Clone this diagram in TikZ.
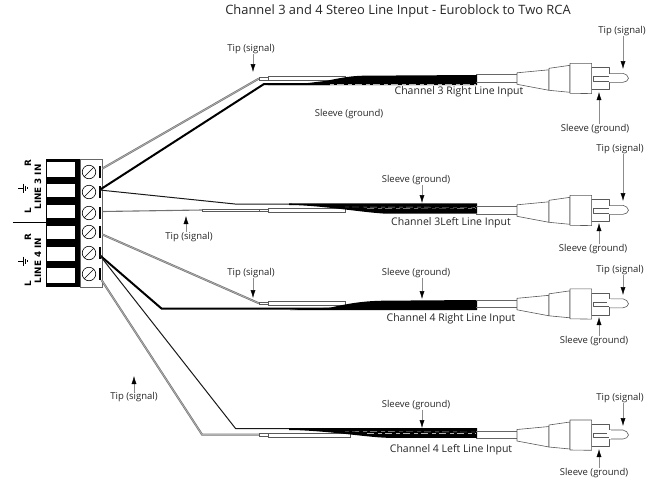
\documentclass[tikz,border=0pt]{standalone}
\usepackage{fontspec}
\setmainfont{Open Sans}
\newfontfamily\blockfont{DejaVu Sans}
\usetikzlibrary{arrows.meta}
\tikzset{
  lbl/.style={inner sep=0pt,font=\fontsize{9.5}{11}\selectfont,text=black!85},
  chl/.style={inner sep=0pt,font=\fontsize{10.5}{12}\selectfont,text=black!85},
  ttl/.style={inner sep=0pt,font=\fontsize{12.9}{14}\selectfont,text=black!85},
  blk/.style={inner sep=0pt,rotate=90,font=\blockfont\bfseries\fontsize{8.8}{10}\selectfont},
  callout/.style={draw=black!45,line width=.5pt,-{Latex[black,length=8pt,width=5pt]}},
  dblwire/.style={draw=black!55,line width=2pt,postaction={draw=white!70!black,line width=.7pt}},
  thinwire/.style={draw=black!90,line width=1pt},
  thickwire/.style={draw=black,line width=2pt},
  greywire/.style={draw=black!55,line width=1.1pt},
  tube/.style={draw=black!65,fill=white,line width=.5pt},
  plugline/.style={draw=black!65,fill=white,line width=.6pt,line join=round},
  whitebox/.style={fill=white,draw=none},
  screw/.style={circle,draw=black,line width=.6pt,minimum size=13.5pt,inner sep=0pt,fill=white},
  sheathdash/.style={draw=white!70!black,line width=.4pt,dash pattern=on 4pt off 3pt on 7pt off 4pt},
  plugpic/.pic={
    \draw[black!60,line width=.6pt] (0,-4) -- (41,-4) (0,3.5) -- (41,3.5);
    \draw[plugline] (41,-5.5) -- (73,-8.5) -- (73,12) -- (41,6) -- cycle;
    \draw[plugline] (73,-10) -- (94,-13) -- (94,14) -- (73,12) -- cycle;
    \draw[plugline] (115.6,-11) -- (133.3,-11) -- (133.3,11) -- (115.6,11) -- cycle;
    \draw[plugline] (133.3,-5) -- (147,-5) .. controls (150,-5) and (152,-2) .. (152.5,0)
      .. controls (152,2) and (150,4) .. (147,4) -- (133.3,4);
    \draw[plugline] (133.3,-5) -- (133.3,-2) -- (117.5,-2) -- (117.5,2.7) -- (133.3,2.7) -- (133.3,4);
    \fill[white] (131,-1.6) rectangle (134.5,2.3);
    \fill[white] (133,-4.6) rectangle (135,3.6);
    \draw[plugline] (94,-15) -- (115.6,-15) -- (115.6,15.3) -- (94,15) -- cycle;
  }
}
\begin{document}
\begin{tikzpicture}[x=1pt,y=-1pt]
\useasboundingbox (0,0) rectangle (660,477);

% terminal block
\fill[black] (46,159) rectangle (80,287);
\foreach \a/\b in {162/177,184/197,205/218,226/239,247/261,268/283}
  \fill[whitebox] (47,\a) rectangle (75,\b);
\draw[black!60,fill=white,line width=.7pt] (80,159) rectangle (102.4,287);
\foreach \y/\n in {172/s1,192/s2,213/s3,232/s4,253/s5,274/s6}{
  \node[screw] (\n) at (89,\y) {};
  \draw[black,line width=.6pt] (\n.north east) -- (\n.south west);
  \draw[black,line width=1.2pt] (100,\y-6) -- (100,\y+6);
}
\coordinate (e1) at (102.4,168.5);
\coordinate (e2) at (99.5,190);
\coordinate (e3) at (102.4,211.5);
\coordinate (e4) at (102.4,234.5);
\coordinate (e5) at (99.5,255);
\coordinate (e6) at (101.5,280);
\coordinate (divL) at (13,222);
\coordinate (divR) at (46,222);
\draw[black,line width=.6pt] (divL) -- (divR);
\node[blk] (l3) at (38,187) {LINE 3 IN};
\node[blk] (l4) at (38,260.5) {LINE 4 IN};
\node[blk] (r3) at (28,163) {R};
\node[blk] (g3l) at (28,210.5) {L};
\node[blk] (r4) at (28,237) {R};
\node[blk] (g4l) at (28,284) {L};
\foreach \y in {188,261}{
  \draw[black,line width=.7pt] (18,\y) -- (23,\y) (23,\y-4.5) -- (23,\y+4.5);
  \draw[black,line width=.8pt] (25,\y-2.5) -- (25,\y+2.5) (27,\y-1) -- (27,\y+1);
}

% channel 3 right
\coordinate (a1) at (259,78.5);
\coordinate (a1k) at (264,84);
\draw[dblwire] (e1) -- (a1);
\draw[tube] (259,77.3) rectangle (268,80);
\draw[tube] (268,76.7) rectangle (345,80.7);
\draw[thickwire] (e2) -- (a1k) -- (330,84);
\fill[black] (268,85) -- (300,84) -- (327,80.7) .. controls (340,78) and (350,76) .. (363,75.7) -- (477,75) -- (477,85) -- cycle;
\draw[sheathdash] (330,84.4) -- (476,84.4);

% channel 3 left
\coordinate (b1) at (235,204);
\coordinate (b2) at (202,210);
\draw[thinwire] (e2) -- (b1) -- (292,204);
\draw[greywire] (e3) -- (b2);
\draw[tube] (202,209.3) rectangle (259,211.3);
\draw[tube] (259,209) rectangle (268,211.5);
\draw[tube] (268,208.3) rectangle (345,212.3);
\fill[black] (289,203.3) -- (477,203.3) -- (477,213.5) -- (383,213.5) .. controls (360,212) and (325,206) .. (293,205) -- (289,205) -- cycle;
\draw[sheathdash] (345,207) -- (476,207.3);
\draw[sheathdash,dash phase=5pt] (365,208.3) -- (476,208.6);

% channel 4 right
\coordinate (c1) at (259,303.3);
\coordinate (c1k) at (161.7,308.7);
\draw[dblwire] (e4) -- (c1);
\draw[tube] (259,302) rectangle (268,304.6);
\draw[tube] (268,301) rectangle (345,305.7);
\draw[thickwire] (e5) -- (c1k) -- (335,308.7);
\fill[black] (290,310) -- (300,309) -- (330,307.7) .. controls (350,303) and (365,301) .. (383,300.7) -- (477,300) -- (477,310) -- cycle;

% channel 4 left
\coordinate (d1) at (235.7,428.7);
\coordinate (d2) at (202,434.5);
\draw[thinwire] (e5) -- (d1) -- (292,428.7);
\draw[dblwire] (e6) -- (d2) -- (259,434.5);
\draw[tube] (259,433.5) rectangle (268,436);
\draw[tube] (268,433.3) rectangle (350,437.3);
\fill[black] (289,428.2) -- (477,428.2) -- (477,437.8) -- (387,437.8) .. controls (365,437) and (330,431) .. (293,430) -- (289,430) -- cycle;
\draw[sheathdash] (345,431.5) -- (476,432);
\draw[sheathdash,dash phase=5pt] (365,433) -- (476,433);

% plugs
\pic (p1) at (476,78.3) {plugpic};
\pic (p2) at (476,210.3) {plugpic};
\pic (p3) at (476,303.8) {plugpic};
\pic (p4) at (476,435) {plugpic};

% title and labels
\node[ttl] (title) at (398,11) {Channel 3 and 4 Stereo Line Input - Euroblock to Two RCA};
\node[chl] (ch1) at (459,92) {Channel 3 Right Line Input};
\node[chl] (ch2) at (451,223) {Channel 3Left Line Input};
\node[chl] (ch3) at (451,319) {Channel 4 Right Line Input};
\node[chl] (ch4) at (451,450) {Channel 4 Left Line Input};
\node[lbl] (sl0) at (349,114) {Sleeve (ground)};

\coordinate (t1) at (253,72);   \node[lbl] (tt1) at (251,49) {Tip (signal)};
\draw[callout] (tt1.south -| t1) -- (t1);
\coordinate (t2) at (623,69);   \node[lbl] (tt2) at (622,31) {Tip (signal)};
\draw[callout] (tt2.south -| t2) -- (t2);
\coordinate (t3) at (599,92);   \node[lbl] (tt3) at (595,129) {Sleeve (ground)};
\draw[callout] (tt3.north -| t3) -- (t3);
\coordinate (t4) at (623,201);  \node[lbl] (tt4) at (620,149) {Tip (signal)};
\draw[callout] (tt4.south -| t4) -- (t4);
\coordinate (t5) at (422,203);  \node[lbl] (tt5) at (416,180) {Sleeve (ground)};
\draw[callout] (tt5.south -| t5) -- (t5);
\coordinate (t6) at (186,216);  \node[lbl] (tt6) at (189,237) {Tip (signal)};
\draw[callout] (tt6.north -| t6) -- (t6);
\coordinate (t7) at (599,223);  \node[lbl] (tt7) at (593,249) {Sleeve (ground)};
\draw[callout] (tt7.north -| t7) -- (t7);
\coordinate (t8) at (253,298);  \node[lbl] (tt8) at (251,273) {Tip (signal)};
\draw[callout] (tt8.south -| t8) -- (t8);
\coordinate (t9) at (422,299);  \node[lbl] (tt9) at (416,273) {Sleeve (ground)};
\draw[callout] (tt9.south -| t9) -- (t9);
\coordinate (t10) at (623,295); \node[lbl] (tt10) at (620,270) {Tip (signal)};
\draw[callout] (tt10.south -| t10) -- (t10);
\coordinate (t11) at (599,317); \node[lbl] (tt11) at (594,341) {Sleeve (ground)};
\draw[callout] (tt11.north -| t11) -- (t11);
\coordinate (t12) at (134,376); \node[lbl] (tt12) at (134,397) {Tip (signal)};
\draw[callout] (tt12.north -| t12) -- (t12);
\coordinate (t13) at (422,428); \node[lbl] (tt13) at (416,405) {Sleeve (ground)};
\draw[callout] (tt13.south -| t13) -- (t13);
\coordinate (t14) at (623,426); \node[lbl] (tt14) at (620,398) {Tip (signal)};
\draw[callout] (tt14.south -| t14) -- (t14);
\coordinate (t15) at (599,449); \node[lbl] (tt15) at (594,473) {Sleeve (ground)};
\draw[callout] (tt15.north -| t15) -- (t15);
\end{tikzpicture}
\end{document}
